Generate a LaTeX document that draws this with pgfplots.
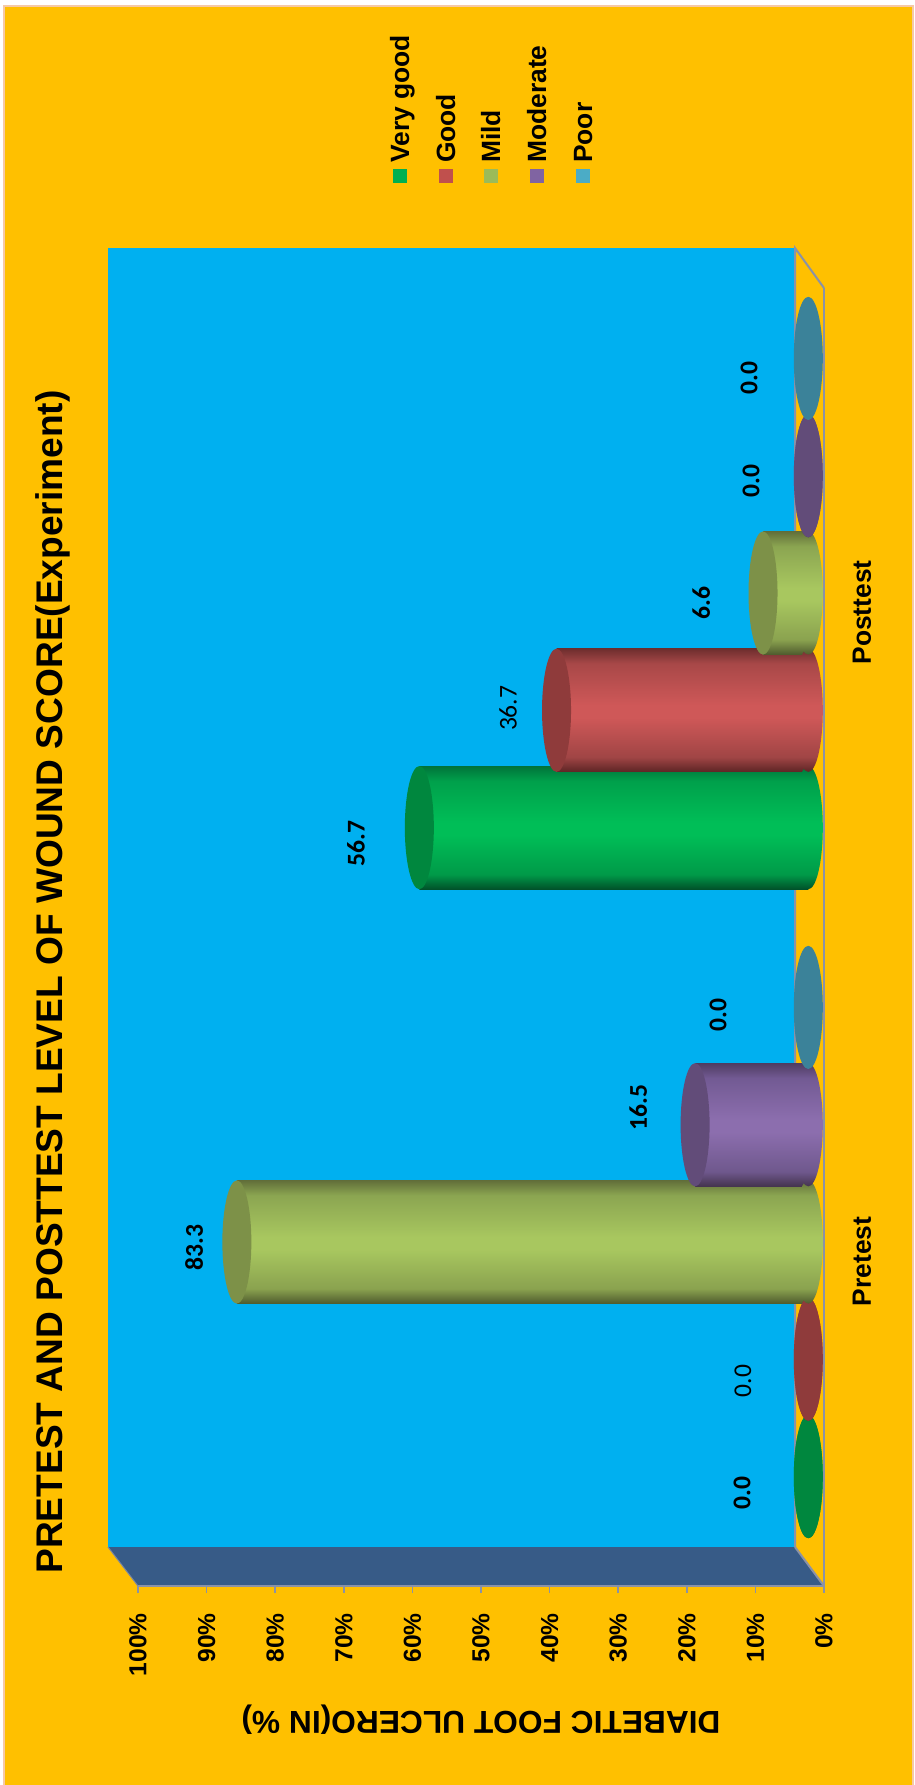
\documentclass[border=0pt]{standalone}
\usepackage{fontspec}
\usepackage{pgfplots}
\usepackage{pgfplotstable}
\pgfplotsset{compat=1.18}
\setmainfont{Liberation Sans}
\newfontfamily\calibri{Carlito}

\definecolor{panel}{HTML}{FFC000}
\definecolor{panelrim}{HTML}{F6C9A6}
\definecolor{wall}{HTML}{00B0F0}
\definecolor{sidewall}{HTML}{375B87}
\definecolor{frame}{HTML}{8B92A6}

% key colours of the five wound grades
\definecolor{keygreen}{HTML}{00B050}
\definecolor{keyred}{HTML}{C0504D}
\definecolor{keymild}{HTML}{9BBB59}
\definecolor{keymoderate}{HTML}{8064A2}
\definecolor{keypoor}{HTML}{4BACC6}

% cylinder end faces
\definecolor{capgreen}{HTML}{00873E}
\definecolor{capred}{HTML}{8F3B3B}
\definecolor{capmild}{HTML}{7D9148}
\definecolor{capmoderate}{HTML}{624C79}
\definecolor{cappoor}{HTML}{3B8299}

% cylinder bodies: top edge, upper shoulder, crest, lower shoulder, bottom edge
\newcommand\cylinderstyle[6]{%
  \definecolor{#1a}{HTML}{#2}\definecolor{#1b}{HTML}{#3}\definecolor{#1c}{HTML}{#4}%
  \definecolor{#1d}{HTML}{#5}\definecolor{#1e}{HTML}{#6}%
  \pgfdeclareverticalshading{cyl#1}{100bp}{%
    color(0bp)=(#1e); color(25bp)=(#1e); color(31bp)=(#1d); color(47bp)=(#1c);
    color(52bp)=(#1c); color(69bp)=(#1b); color(75bp)=(#1a); color(100bp)=(#1a)}%
  \pgfdeclareplotmark{base#1}{%
    \shade[draw=none, shading=cyl#1, rotate=3.7] (0pt,0pt) ellipse [x radius=14.5pt, y radius=61.6pt];}%
  \pgfdeclareplotmark{cap#1}{%
    \fill[draw=none, fill=cap#1, rotate=3.7] (0pt,0pt) ellipse [x radius=14.5pt, y radius=61.6pt];}%
}
\cylinderstyle{green}{00733A}{00A04B}{00BE57}{009A48}{00512A}
\cylinderstyle{red}{6E2E2E}{A84848}{CF5858}{A04545}{5D2525}
\cylinderstyle{mild}{626F3A}{8BA551}{A8C75F}{8AA24F}{4F5B2E}
\cylinderstyle{moderate}{4F3C62}{725A93}{8C6EAE}{6F588D}{45344F}
\cylinderstyle{poor}{2F6A7C}{3B8299}{3B8299}{3B8299}{2F6A7C}

% group, percentage, label offset from the end face (right, up)
\pgfplotstableread{
group value dx dy
1 0.0 -66.3 -16.5
2 56.7 -63.3 -15.5
}\tblgreen
\pgfplotstableread{
group value dx dy
1 0.0 -65.3 -21.5
2 36.7 -48.5 2
}\tblred
\pgfplotstableread{
group value dx dy
1 83.3 -42.8 -5.2
2 6.6 -61.8 -10
}\tblmild
\pgfplotstableread{
group value dx dy
1 16.5 -56.8 17.5
2 0.0 -57.3 -5.5
}\tblmoderate
\pgfplotstableread{
group value dx dy
1 0.0 -90.3 -7.5
2 0.0 -59.3 -19.5
}\tblpoor

% body of a cylinder: rounded base, then one bar per group so each gets its own shading
\newcommand\cylbody[3]{%
  \addplot[only marks, mark=base#1, forget plot]
    table[x expr=0, y expr=\thisrow{group}+#2] {#3};
  \addplot[xbar, bar shift=0pt, bar width=123pt, draw=none, shade, shading=cyl#1,
           restrict x to domain=0.01:100, restrict y to domain=0:1.5, forget plot]
    table[x=value, y expr=\thisrow{group}+#2] {#3};
  \addplot[xbar, bar shift=0pt, bar width=123pt, draw=none, shade, shading=cyl#1,
           restrict x to domain=0.01:100, restrict y to domain=1.5:3, forget plot]
    table[x=value, y expr=\thisrow{group}+#2] {#3};
}
% end face of a cylinder with its value label
\newcommand\cylface[4]{%
  \addplot[only marks, mark=cap#1, forget plot, point meta=x,
           visualization depends on={\thisrow{dx}\as\lx},
           visualization depends on={\thisrow{dy}\as\ly},
           nodes near coords={\pgfmathprintnumber[fixed,fixed zerofill,precision=1,assume math mode=true]{\pgfplotspointmeta}},
           every node near coord/.append style={xshift=\lx pt, yshift=\ly pt, rotate=90,
             anchor=center, inner sep=0pt, text=black,
             font=\fontsize{25.6}{28}\selectfont\calibri#4}]
    table[x=value, y expr=\thisrow{group}+#2] {#3};
}

\begin{document}
\begin{tikzpicture}
\path[use as bounding box] (0,0) rectangle (914pt,-1785pt);

% panel, back wall, side wall and floor
\begin{scope}[x=1pt,y=-1pt]
  \fill[white] (0,0) rectangle (914,1785);
  \fill[panel, draw=panelrim, line width=2pt] (4,6) rectangle (913,1790);
  \fill[wall] (108,248) rectangle (795,1547);
  \fill[sidewall] (108,1547) -- (795,1547) -- (824,1586) -- (138,1586) -- cycle;
  \draw[frame, line width=2pt] (795,1547) -- (795,248) -- (824,288);
  \draw[frame, line width=2pt] (795,1547) -- (824,1586);
  \draw[frame!80!sidewall, line width=1pt] (108,1547) -- (138,1586);
\end{scope}

% front axis with the percentage scale and the group names
\begin{axis}[
  at={(138pt,-1586pt)}, anchor=south west, scale only axis,
  width=686pt, height=1298pt,
  x dir=reverse, xmin=0, xmax=100, ymin=0.5, ymax=2.5,
  axis x line=bottom, axis y line=right,
  axis line style={frame, line width=2.4pt, -},
  clip=false,
  xtick={0,10,...,100},
  xticklabels={0\%,10\%,20\%,30\%,40\%,50\%,60\%,70\%,80\%,90\%,100\%},
  xtick style={frame, line width=1.6pt},
  major tick length=7pt, tick align=outside,
  xticklabel style={rotate=90, anchor=east, inner sep=0pt, text=black,
    font=\fontsize{24.6}{28}\selectfont\bfseries},
  xticklabel shift=20pt,
  ytick={1,2}, yticklabels={Pretest,Posttest},
  ytick style={draw=none},
  yticklabel style={xshift=31pt, rotate=90, anchor=center, inner sep=0pt, text=black,
    font=\fontsize{26.4}{28}\selectfont\bfseries},
  xlabel={DIABETIC FOOT ULCERO(IN \%)},
  xlabel style={at={(rel axis cs:0.5,-0.1032)}, anchor=center, rotate=180,
    font=\fontsize{31.7}{34}\selectfont\bfseries},
  title={PRETEST AND POSTTEST LEVEL OF WOUND SCORE(Experiment)},
  title style={at={(rel axis cs:-0.1239,0.4607)}, anchor=center, rotate=90,
    font=\fontsize{37.1}{40}\selectfont\bfseries},
]
\end{axis}

% cylinders stand half way between the back wall and the front edge of the floor
\begin{axis}[
  at={(122.3pt,-1566.5pt)}, anchor=south west, scale only axis,
  width=686pt, height=1298pt,
  x dir=reverse, xmin=0, xmax=100, ymin=0.5, ymax=2.5,
  axis lines=none, clip=false,
]
\cylbody{green}{-0.3615}{\tblgreen}
\cylface{green}{-0.3615}{\tblgreen}{\bfseries}
\cylbody{red}{-0.1807}{\tblred}
\cylface{red}{-0.1807}{\tblred}{}
\cylbody{mild}{0}{\tblmild}
\cylface{mild}{0}{\tblmild}{\bfseries}
\cylbody{moderate}{0.1807}{\tblmoderate}
\cylface{moderate}{0.1807}{\tblmoderate}{\bfseries}
\cylface{poor}{0.3615}{\tblpoor}{\bfseries}
\end{axis}

% legend, turned with the rest of the chart
\begin{scope}[x=1pt,y=-1pt]
  \foreach \cx/\col/\name in {400/keygreen/Very good, 446/keyred/Good, 491/keymild/Mild,
                              537/keymoderate/Moderate, 583/keypoor/Poor}{
    \fill[\col] (\cx-7,169) rectangle (\cx+7,183);
    \node[rotate=90, anchor=base west, inner sep=0pt,
          font=\fontsize{26.4}{28}\selectfont\bfseries] at (\cx+9,163) {\name};
  }
\end{scope}
\end{tikzpicture}
\end{document}
